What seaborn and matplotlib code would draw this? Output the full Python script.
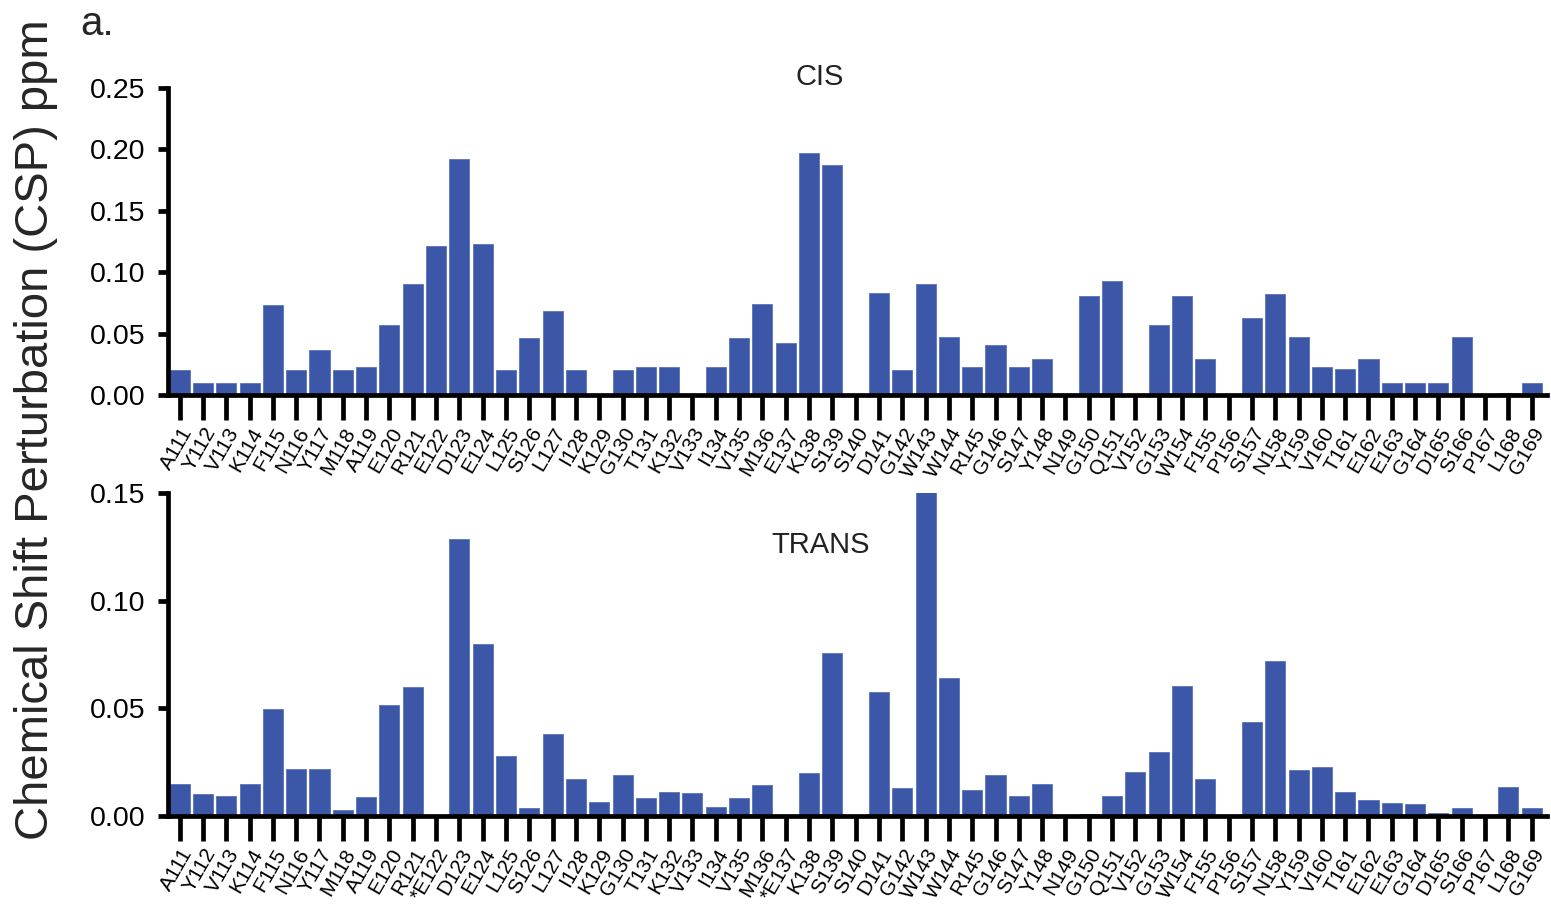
import numpy as np
import pandas as pd
import matplotlib
matplotlib.use("Agg")
import matplotlib.pyplot as plt
import seaborn as sb

# residue labels
cis_labels = ["A111", "Y112", "V113", "K114", "F115", "N116", "Y117", "M118", "A119", "E120",
              "R121", "E122", "D123", "E124", "L125", "S126", "L127", "I128", "K129", "G130",
              "T131", "K132", "V133", "I134", "V135", "M136", "E137", "K138", "S139", "S140",
              "D141", "G142", "W143", "W144", "R145", "G146", "S147", "Y148", "N149", "G150",
              "Q151", "V152", "G153", "W154", "F155", "P156", "S157", "N158", "Y159", "V160",
              "T161", "E162", "E163", "G164", "D165", "S166", "P167", "L168", "G169"]
trans_labels = [l if l not in ("E122", "E137") else "*" + l for l in cis_labels]

# CSP values (ppm)
cis_csp = [0.020, 0.010, 0.010, 0.010, 0.073, 0.020, 0.037, 0.020, 0.023, 0.057,
           0.090, 0.121, 0.192, 0.123, 0.020, 0.046, 0.068, 0.020, 0.000, 0.020,
           0.023, 0.023, 0.000, 0.023, 0.046, 0.074, 0.042, 0.197, 0.187, 0.000,
           0.083, 0.020, 0.090, 0.047, 0.023, 0.041, 0.023, 0.029, 0.000, 0.081,
           0.093, 0.000, 0.057, 0.081, 0.029, 0.000, 0.063, 0.082, 0.047, 0.023,
           0.021, 0.029, 0.010, 0.010, 0.010, 0.047, 0.000, 0.0015, 0.010]
trans_csp = [0.0148, 0.0102, 0.0093, 0.0147, 0.0495, 0.0218, 0.0218, 0.0028, 0.0088, 0.0515,
             0.060, 0.000, 0.1288, 0.080, 0.028, 0.0037, 0.038, 0.0172, 0.0066, 0.019,
             0.0082, 0.011, 0.0107, 0.0043, 0.0084, 0.0142, 0.000, 0.0201, 0.0756, 0.000,
             0.0575, 0.0131, 0.160, 0.064, 0.0122, 0.019, 0.0093, 0.0148, 0.000, 0.001,
             0.0093, 0.0204, 0.0297, 0.0603, 0.017, 0.000, 0.0438, 0.0719, 0.0215, 0.0229,
             0.0111, 0.0074, 0.0059, 0.0054, 0.0016, 0.0037, 0.000, 0.0135, 0.0036]

bar_color = "#3c57a8"

sb.set_style("ticks")
plt.rcParams['font.family'] = ['Liberation Sans', 'DejaVu Sans']


def panel(ax, labels, values, ymax, title, title_y):
    df = pd.DataFrame({"res": labels, "csp": values})
    sb.barplot(data=df, x="res", y="csp", color=bar_color, saturation=1,
               width=0.86, edgecolor="#5a72b8", linewidth=0.6, ax=ax)
    ax.set_xlim(-0.5, len(labels) - 0.35)
    ax.set_ylim(0, ymax)
    ticks = np.arange(0, ymax + 0.001, 0.05)
    ax.set_yticks(ticks)
    ax.set_yticklabels([f"{t:.2f}" for t in ticks], fontsize=20.5, color="black")
    ax.set_xticks(range(len(labels)))
    ax.set_xticklabels(labels, rotation=60, ha="right", rotation_mode="anchor",
                       fontsize=15, color="black")
    ax.tick_params(axis="x", length=18, width=3.4, pad=3, color="black")
    ax.tick_params(axis="y", length=7, width=3.4, pad=9, color="black")
    for s in ("top", "right"):
        ax.spines[s].set_visible(False)
    for s in ("left", "bottom"):
        ax.spines[s].set_linewidth(3.4)
        ax.spines[s].set_color("black")
    ax.set_xlabel("")
    ax.set_ylabel("")
    ax.text(0.473, title_y, title, transform=ax.transAxes, ha="center", va="center",
            fontsize=21, color="#222222")


fig = plt.figure(figsize=(15.51, 9.09), dpi=100)
ax1 = fig.add_axes([0.1083, 0.5655, 0.889, 0.3377])
ax2 = fig.add_axes([0.1083, 0.1023, 0.889, 0.3553])

panel(ax1, cis_labels, cis_csp, 0.25, "CIS", 1.035)
panel(ax2, trans_labels, trans_csp, 0.15, "TRANS", 0.84)

fig.text(0.023, 0.527, "Chemical Shift Perturbation (CSP) ppm", rotation=90,
         ha="center", va="center", fontsize=34)
fig.text(0.052, 0.995, "a.", ha="left", va="top", fontsize=29)

fig.savefig("out.png", dpi=100)
